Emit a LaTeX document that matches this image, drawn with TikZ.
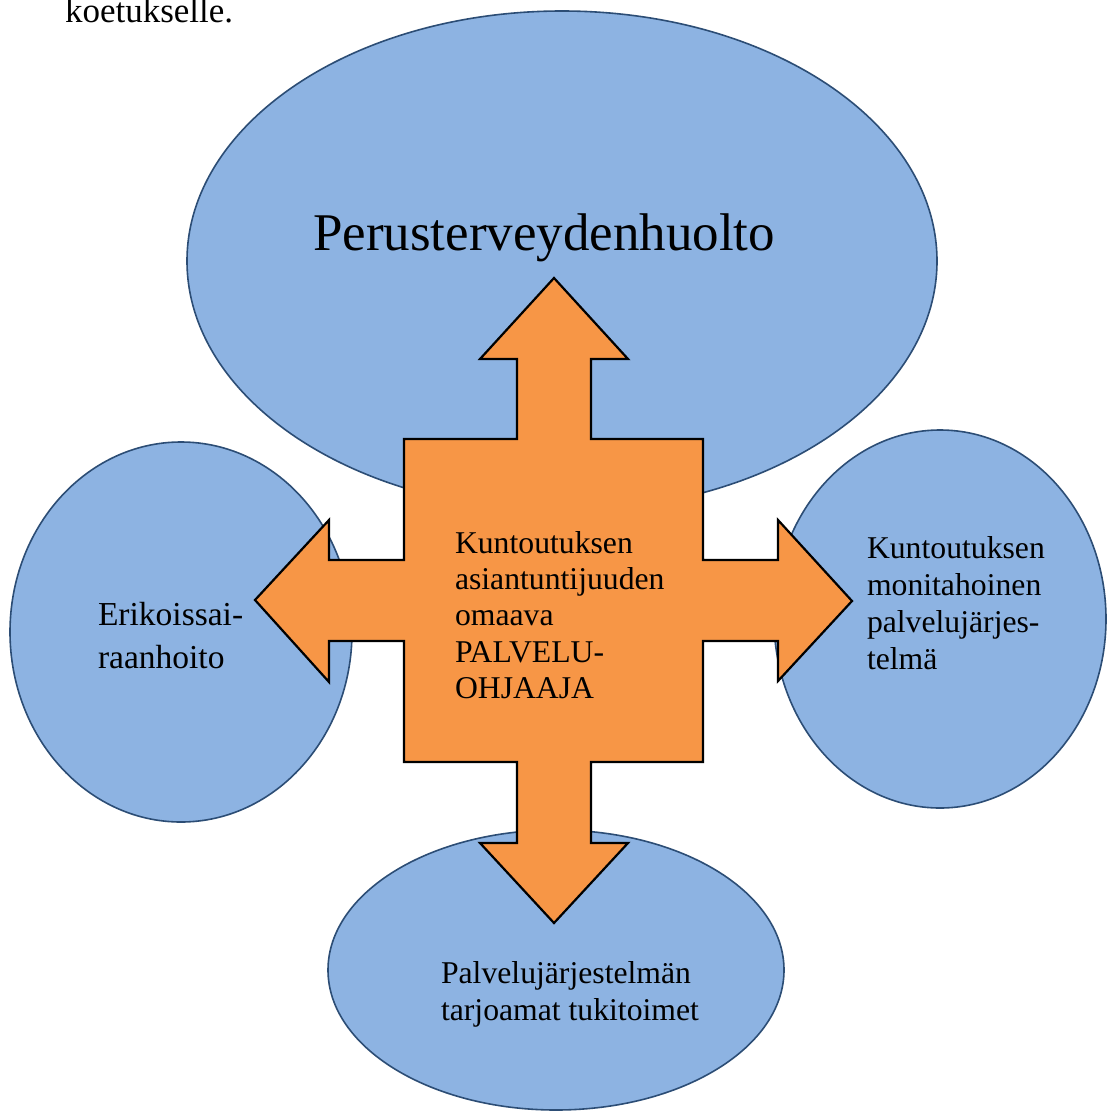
\documentclass[tikz,border=0pt]{standalone}
\usepackage{fontspec}
\setmainfont{Liberation Serif}
\definecolor{ellfill}{HTML}{8DB3E2}
\definecolor{ellline}{HTML}{2C4D75}
\definecolor{crossfill}{HTML}{F79646}
\newcommand{\mylines}[3]{\vtop{\fontsize{#1}{#2}\selectfont #3}}
\begin{document}
\begin{tikzpicture}[x=1pt,y=-1pt,
  bubble/.style={fill=ellfill,draw=ellline,line width=1.6pt},
  crossshape/.style={fill=crossfill,draw=black,line width=2.2pt,line join=miter},
  lbl/.style={anchor=base west,inner sep=0pt,outer sep=0pt,text=black,align=left}]
\path[use as bounding box,fill=white] (0,0) rectangle (1107,1111);
% ellipses
\draw[bubble] (562,261) ellipse [x radius=375, y radius=250];
\draw[bubble] (181,632) ellipse [x radius=171, y radius=190];
\draw[bubble] (940,619) ellipse [x radius=166, y radius=189];
\draw[bubble] (556,970) ellipse [x radius=228, y radius=140];
% cross
\draw[crossshape] (554,278) -- (628,359) -- (591,359) -- (591,439) -- (703,439) -- (703,560)
  -- (778,560) -- (778,520) -- (852,601) -- (778,681) -- (778,641) -- (703,641) -- (703,762)
  -- (591,762) -- (591,843) -- (628,843) -- (554,923) -- (480,843) -- (517,843) -- (517,762)
  -- (404,762) -- (404,641) -- (329,641) -- (329,682) -- (255,600) -- (329,520) -- (329,560)
  -- (404,560) -- (404,439) -- (517,439) -- (517,359) -- (480,359) -- cycle;
% texts
\node[lbl] (intro) at (65,22) {\fontsize{35}{40}\selectfont koetukselle.};
\node[lbl] (perus) at (313,250) {\fontsize{53}{60}\selectfont Perusterveydenhuolto};
\node[lbl] (ohjaaja) at (455,553) {\mylines{31.7}{36.4}{\hbox{Kuntoutuksen}\hbox{asiantuntijuuden}\hbox{omaava}\hbox{PALVELU-}\hbox{OHJAAJA}}};
\node[lbl] (erik) at (98,625) {\mylines{33.5}{43}{\hbox{Erikoissai-}\hbox{raanhoito}}};
\node[lbl] (moni) at (867,558) {\mylines{31.7}{37.2}{\hbox{Kuntoutuksen}\hbox{monitahoinen}\hbox{palvelujärjes-}\hbox{telmä}}};
\node[lbl] (tuki) at (441,983) {\mylines{31.7}{37}{\hbox{Palvelujärjestelmän}\hbox{tarjoamat tukitoimet}}};
\end{tikzpicture}
\end{document}
